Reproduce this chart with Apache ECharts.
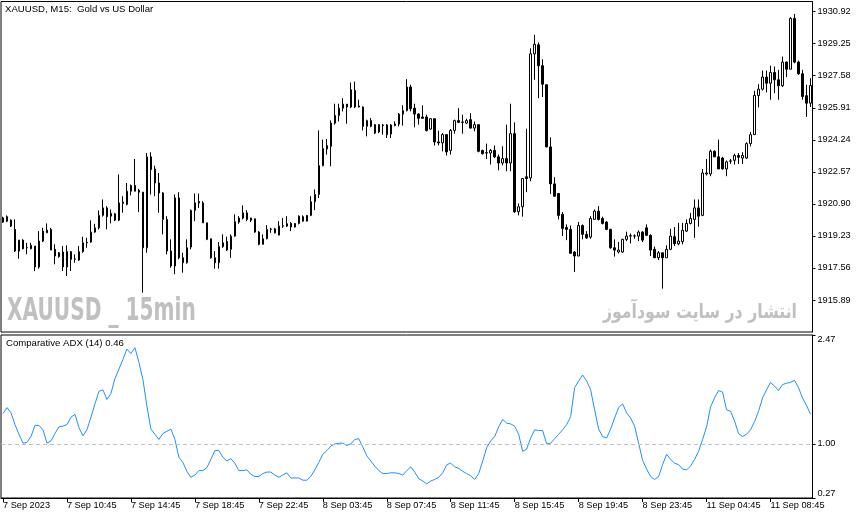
<!DOCTYPE html>
<html><head><meta charset="utf-8">
<script src="https://cdn.jsdelivr.net/npm/echarts@6/dist/echarts.min.js"></script>
<style>html,body{margin:0;padding:0;background:#fff}#c{width:866px;height:520px}</style>
</head><body><div id="c"></div>
<script>
const open=[1920.17,1920.23,1920.05,1919.57,1918.44,1919.01,1918.61,1918.56,1918.70,1917.61,1918.96,1919.39,1919.57,1918.53,1918.15,1918.39,1917.61,1918.41,1918.01,1917.97,
1918.41,1918.87,1918.91,1919.43,1919.65,1920.30,1920.69,1920.26,1920.38,1920.05,1920.92,1920.87,1921.56,1921.86,1921.61,1921.51,1918.61,1923.35,1922.72,1921.99,
1921.47,1920.09,1918.44,1917.66,1921.21,1918.09,1917.83,1918.65,1920.56,1921.02,1920.95,1919.91,1919.08,1918.09,1917.83,1918.67,1918.94,1918.53,1919.22,1919.95,
1920.16,1920.43,1920.16,1920.12,1919.43,1918.79,1919.08,1919.57,1919.39,1919.27,1919.74,1919.86,1919.88,1919.69,1919.88,1920.23,1920.00,1920.30,1921.01,1921.39,
1922.89,1923.76,1923.90,1925.11,1925.51,1925.89,1926.10,1925.95,1926.81,1926.00,1925.95,1924.94,1925.24,1925.03,1924.65,1925.01,1925.01,1924.54,1925.06,1925.06,
1925.58,1925.76,1926.99,1925.89,1925.58,1925.43,1925.43,1924.80,1925.34,1924.13,1924.08,1924.51,1923.69,1924.73,1925.24,1925.15,1925.11,1925.29,1924.85,1925.03,
1923.68,1923.55,1923.55,1923.69,1923.35,1923.03,1923.26,1923.03,1924.56,1920.49,1920.75,1922.31,1922.25,1928.72,1929.19,1928.10,1927.11,1923.87,1921.94,1921.44,
1920.35,1919.67,1919.57,1918.39,1918.18,1919.77,1919.31,1919.17,1920.09,1920.52,1920.14,1919.95,1919.57,1918.61,1918.39,1918.39,1919.05,1919.22,1919.22,1919.22,
1919.43,1919.65,1919.26,1918.53,1918.09,1918.35,1918.09,1918.53,1919.19,1918.82,1918.93,1919.48,1919.88,1920.09,1920.69,1920.30,1922.46,1922.46,1923.64,1923.35,
1923.29,1922.72,1923.12,1923.17,1923.42,1923.29,1923.29,1924.04,1924.51,1926.55,1926.88,1927.51,1927.19,1927.75,1927.37,1927.06,1928.29,1927.92,1930.57,1928.29,
1927.68,1926.54,1926.15];
const close=[1919.95,1920.00,1919.74,1918.44,1919.01,1918.56,1918.63,1918.74,1917.61,1918.96,1919.48,1919.53,1918.49,1918.18,1918.35,1917.61,1918.41,1918.01,1918.03,1918.41,
1918.87,1918.89,1919.43,1919.65,1920.30,1920.69,1920.23,1920.40,1920.05,1920.95,1920.99,1921.56,1921.86,1921.56,1921.51,1918.61,1923.35,1922.69,1921.99,1921.47,
1920.09,1918.44,1917.66,1921.21,1918.09,1917.83,1918.61,1920.56,1920.95,1920.95,1919.91,1919.05,1918.09,1917.83,1918.67,1918.87,1918.49,1919.22,1919.97,1920.16,
1920.43,1920.09,1920.05,1919.43,1918.79,1919.08,1919.57,1919.59,1919.60,1919.74,1919.76,1919.74,1919.69,1919.88,1920.26,1920.00,1920.30,1921.01,1921.39,1922.89,
1923.78,1923.94,1925.11,1925.51,1925.89,1926.10,1925.95,1926.85,1925.95,1925.95,1924.94,1925.24,1924.94,1924.59,1925.03,1924.98,1924.51,1925.01,1924.99,1925.58,
1925.76,1926.99,1925.86,1925.58,1925.36,1925.36,1924.72,1925.34,1924.13,1924.08,1924.51,1923.61,1924.73,1925.24,1925.15,1925.17,1925.24,1924.85,1925.03,1923.64,
1923.52,1923.57,1923.69,1923.35,1923.03,1923.26,1923.03,1924.56,1920.49,1920.75,1922.22,1922.22,1928.72,1929.22,1928.10,1927.14,1923.87,1921.94,1921.30,1920.30,
1919.62,1919.57,1918.32,1918.18,1919.77,1919.31,1919.12,1920.14,1920.52,1920.09,1919.88,1919.57,1918.61,1918.49,1918.49,1919.05,1919.22,1919.24,1919.23,1919.43,
1919.01,1919.26,1918.49,1918.09,1918.35,1918.09,1918.53,1919.22,1918.82,1918.96,1919.52,1919.88,1920.14,1920.69,1920.26,1922.51,1922.51,1923.64,1923.35,1922.72,
1922.72,1923.09,1923.14,1923.42,1923.33,1923.42,1924.04,1924.51,1926.55,1926.88,1927.51,1927.19,1927.75,1927.37,1927.06,1928.29,1927.92,1930.57,1928.29,1927.68,
1926.50,1926.15,1927.07];
const high=[1920.23,1920.30,1920.09,1920.09,1919.01,1919.05,1918.87,1918.87,1918.70,1919.48,1919.65,1919.88,1919.65,1918.79,1918.39,1918.70,1918.74,1918.44,1918.27,1918.70,
1919.19,1919.13,1920.04,1919.86,1920.56,1921.13,1920.78,1920.61,1920.43,1922.43,1921.30,1921.99,1921.91,1923.24,1921.68,1921.51,1923.55,1923.59,1922.89,1922.51,
1921.51,1920.26,1919.05,1921.39,1921.51,1918.35,1919.05,1920.61,1921.44,1921.44,1921.04,1919.91,1919.08,1918.44,1918.91,1919.31,1919.19,1919.31,1920.35,1920.26,
1920.82,1920.57,1920.17,1920.12,1919.48,1919.31,1919.79,1919.65,1919.65,1920.00,1920.17,1920.26,1919.95,1919.90,1920.30,1920.30,1920.32,1921.30,1921.65,1924.73,
1924.25,1924.28,1925.25,1926.12,1926.12,1926.41,1926.10,1927.23,1927.28,1926.33,1925.98,1925.29,1925.37,1925.06,1925.06,1925.06,1925.06,1925.06,1925.20,1925.63,
1926.04,1927.40,1927.11,1926.12,1925.63,1926.04,1925.55,1925.37,1925.37,1924.72,1924.59,1924.54,1924.80,1925.29,1925.89,1925.55,1925.34,1925.63,1925.20,1925.03,
1923.73,1924.04,1923.76,1923.94,1923.47,1923.90,1925.03,1926.12,1925.15,1920.92,1922.25,1924.82,1929.01,1929.71,1929.31,1928.44,1927.11,1924.37,1922.29,1921.47,
1920.47,1919.83,1919.77,1918.44,1919.95,1919.83,1919.48,1920.26,1920.61,1920.78,1920.23,1920.00,1919.60,1919.05,1918.91,1919.08,1919.45,1919.36,1919.31,1919.51,
1919.48,1919.83,1919.31,1918.67,1918.44,1918.35,1918.74,1919.60,1919.69,1919.91,1919.91,1920.09,1920.43,1921.13,1921.13,1922.72,1923.24,1923.73,1923.69,1924.25,
1923.35,1923.16,1923.24,1923.52,1923.55,1923.59,1924.11,1924.65,1926.80,1927.14,1927.85,1927.85,1928.10,1928.06,1927.89,1928.58,1928.32,1930.63,1930.80,1928.37,
1927.89,1927.11,1927.45];
const low=[1919.91,1919.95,1919.69,1918.39,1918.04,1918.53,1918.27,1918.53,1917.40,1917.52,1918.91,1919.39,1918.49,1917.75,1918.09,1917.40,1917.14,1917.40,1917.83,1917.92,
1918.35,1918.61,1918.87,1919.39,1919.57,1920.23,1919.57,1919.88,1920.00,1920.00,1920.43,1920.82,1921.34,1921.56,1920.47,1916.27,1918.35,1921.39,1921.30,1920.43,
1919.31,1918.27,1917.57,1917.23,1918.01,1917.31,1917.78,1918.53,1920.00,1920.69,1919.91,1919.01,1918.04,1917.52,1917.52,1918.61,1918.44,1918.09,1919.19,1919.86,
1920.09,1920.00,1919.95,1919.39,1918.74,1918.79,1919.05,1919.39,1919.36,1919.27,1919.65,1919.69,1919.48,1919.67,1919.83,1919.97,1919.98,1920.26,1920.57,1921.21,
1922.86,1923.47,1922.86,1925.03,1925.20,1925.72,1925.08,1925.89,1925.89,1925.93,1924.73,1924.42,1924.89,1924.54,1924.59,1924.51,1924.33,1924.33,1924.94,1924.94,
1924.98,1925.72,1925.72,1924.89,1925.03,1925.36,1924.68,1924.77,1923.94,1923.95,1923.64,1923.42,1923.47,1924.56,1925.11,1924.56,1925.06,1924.82,1924.68,1923.59,
1923.47,1923.24,1922.95,1923.29,1922.65,1922.91,1922.60,1922.60,1920.43,1920.30,1920.23,1921.51,1922.08,1927.37,1926.41,1926.47,1923.85,1921.42,1921.27,1920.09,
1919.22,1919.01,1918.32,1917.35,1918.18,1919.05,1919.08,1919.08,1920.09,1920.04,1919.83,1919.53,1918.56,1918.15,1918.32,1918.35,1918.96,1918.84,1919.08,1918.96,
1918.91,1919.22,1918.18,1918.09,1917.97,1916.48,1918.09,1918.49,1918.70,1918.74,1918.79,1919.43,1919.83,1919.13,1919.71,1920.26,1922.38,1922.34,1923.35,1922.72,
1922.69,1922.34,1922.98,1922.95,1922.98,1922.98,1923.24,1923.90,1924.51,1925.93,1926.81,1926.71,1926.33,1926.67,1926.33,1926.99,1927.51,1927.92,1928.23,1927.63,
1926.33,1925.43,1925.95];
const adx=[1.41,1.49,1.42,1.26,1.13,1.01,1.02,1.10,1.25,1.25,1.19,1.01,1.04,1.14,1.23,1.24,1.26,1.36,1.40,1.22,
1.11,1.19,1.36,1.54,1.71,1.73,1.60,1.68,1.88,2.01,2.14,2.28,2.22,2.30,2.10,1.87,1.51,1.20,1.13,1.06,
1.14,1.17,1.20,1.06,0.82,0.75,0.63,0.55,0.58,0.64,0.64,0.68,0.79,0.91,0.91,0.82,0.77,0.80,0.74,0.64,
0.64,0.65,0.59,0.56,0.56,0.60,0.62,0.62,0.58,0.55,0.58,0.61,0.54,0.54,0.54,0.51,0.51,0.56,0.65,0.75,
0.86,0.91,0.97,1.00,1.01,1.01,0.98,1.00,1.06,1.07,0.96,0.84,0.77,0.70,0.64,0.60,0.60,0.61,0.61,0.60,
0.58,0.64,0.69,0.62,0.53,0.50,0.46,0.50,0.52,0.55,0.61,0.72,0.74,0.69,0.67,0.63,0.60,0.57,0.52,0.60,
0.77,0.95,1.04,1.10,1.23,1.33,1.28,1.27,1.24,1.13,0.90,0.93,1.08,1.19,1.18,1.18,1.00,1.01,1.07,1.13,
1.19,1.26,1.37,1.76,1.85,1.93,1.85,1.73,1.46,1.20,1.10,1.08,1.20,1.35,1.49,1.54,1.42,1.35,1.24,1.01,
0.78,0.66,0.56,0.52,0.56,0.72,0.86,0.79,0.74,0.72,0.66,0.65,0.70,0.79,0.90,1.06,1.23,1.50,1.62,1.72,
1.70,1.46,1.44,1.31,1.14,1.10,1.13,1.19,1.30,1.44,1.62,1.73,1.83,1.78,1.72,1.80,1.82,1.83,1.86,1.76,
1.62,1.52,1.40];
const tickLabels=['7 Sep 2023','7 Sep 10:45','7 Sep 14:45','7 Sep 18:45','7 Sep 22:45','8 Sep 03:45','8 Sep 07:45',
'8 Sep 11:45','8 Sep 15:45','8 Sep 19:45','8 Sep 23:45','11 Sep 04:45','11 Sep 08:45'];
const priceTicks={min:1914.22,max:1931.45,step:1.67};
const adxTicks=[0.27,1.00,2.47];
const titleText='XAUUSD, M15:  Gold vs US Dollar';
const indText='Comparative ADX (14) 0.46';
const wmLeft='XAUUSD _ 15min';
const wmRight='انتشار در سایت سودآموز';

const cats=open.map((_,i)=>String(i));
const ohlc=open.map((o,i)=>[o,close[i],low[i],high[i]]);
const FONT='"Liberation Sans", Arial, sans-serif';
const chart=echarts.init(document.getElementById('c'),null,{renderer:'canvas'});
const showIdx=(i)=>i%16===0;
chart.setOption({
  animation:false,
  backgroundColor:'#fff',
  title:[
    {text:titleText,left:5,top:4.5,padding:0,textStyle:{fontSize:9.6,fontWeight:'normal',color:'#000',fontFamily:FONT}},
    {text:indText,left:6,top:338,padding:0,textStyle:{fontSize:9.6,fontWeight:'normal',color:'#000',fontFamily:FONT}}
  ],
  graphic:[
    {type:'text',x:7,y:312,scaleX:0.8,scaleY:1.12,z:0,silent:true,
     style:{text:wmLeft,font:'bold 28px "Liberation Sans Narrow","DejaVu Sans Condensed",sans-serif',fill:'#c0c0c0',align:'left',verticalAlign:'middle',textAlign:'left',textVerticalAlign:'middle'}},
    {type:'text',x:797,y:313,scaleX:0.83,scaleY:1.05,z:0,silent:true,
     style:{text:wmRight,font:'bold 19px "DejaVu Sans",sans-serif',fill:'#c0c0c0',align:'right',verticalAlign:'middle',textAlign:'right',textVerticalAlign:'middle'}}
  ],
  grid:[
    {left:1,top:1.5,width:811.5,height:330.5,show:true,borderColor:'#000',borderWidth:1,backgroundColor:'rgba(0,0,0,0)'},
    {left:1,top:335,width:811.5,height:163,show:true,borderColor:'#000',borderWidth:1,backgroundColor:'rgba(0,0,0,0)'}
  ],
  xAxis:[
    {type:'category',gridIndex:0,data:cats,boundaryGap:true,show:false},
    {type:'category',gridIndex:1,data:cats,boundaryGap:true,
     axisLine:{show:true,lineStyle:{color:'#000',width:1}},
     axisTick:{show:true,alignWithLabel:true,interval:showIdx,length:4,lineStyle:{color:'#000'}},
     axisLabel:{interval:showIdx,formatter:(v,i)=>tickLabels[i/16]||'',align:'left',color:'#000',fontSize:9.2,fontFamily:FONT,margin:3},
     splitLine:{show:false}}
  ],
  yAxis:[
    {type:'value',gridIndex:0,position:'right',min:priceTicks.min,max:priceTicks.max,interval:priceTicks.step,
     axisLine:{show:true,lineStyle:{color:'#000'}},
     axisTick:{show:true,length:3,lineStyle:{color:'#000'}},
     splitLine:{show:false},
     axisLabel:{showMinLabel:false,showMaxLabel:false,formatter:v=>v.toFixed(2),color:'#000',fontSize:9.2,fontFamily:FONT,margin:5}},
    {type:'value',gridIndex:1,position:'right',min:adxTicks[0],max:adxTicks[2],
     axisLine:{show:true,lineStyle:{color:'#000'}},
     axisTick:{show:true,length:3,customValues:adxTicks,lineStyle:{color:'#000'}},
     splitLine:{show:false},
     axisLabel:{customValues:adxTicks,formatter:v=>v.toFixed(2),color:'#000',fontSize:9.2,fontFamily:FONT,margin:5,
       verticalAlignMinLabel:'bottom',verticalAlignMaxLabel:'top'}}
  ],
  series:[
    {type:'candlestick',xAxisIndex:0,yAxisIndex:0,data:ohlc,barWidth:2,
     itemStyle:{color:'#ffffff',color0:'#000000',borderColor:'#000000',borderColor0:'#000000',borderColorDoji:'#000000',borderWidth:1}},
    {type:'line',xAxisIndex:1,yAxisIndex:1,data:adx,showSymbol:false,symbol:'none',
     lineStyle:{color:'#1E90FF',width:1},
     markLine:{silent:true,symbol:'none',label:{show:false},
       lineStyle:{color:'#c0c0c0',type:[4,3],width:1},data:[{yAxis:1.00}]}}
  ]
});
</script></body></html>
